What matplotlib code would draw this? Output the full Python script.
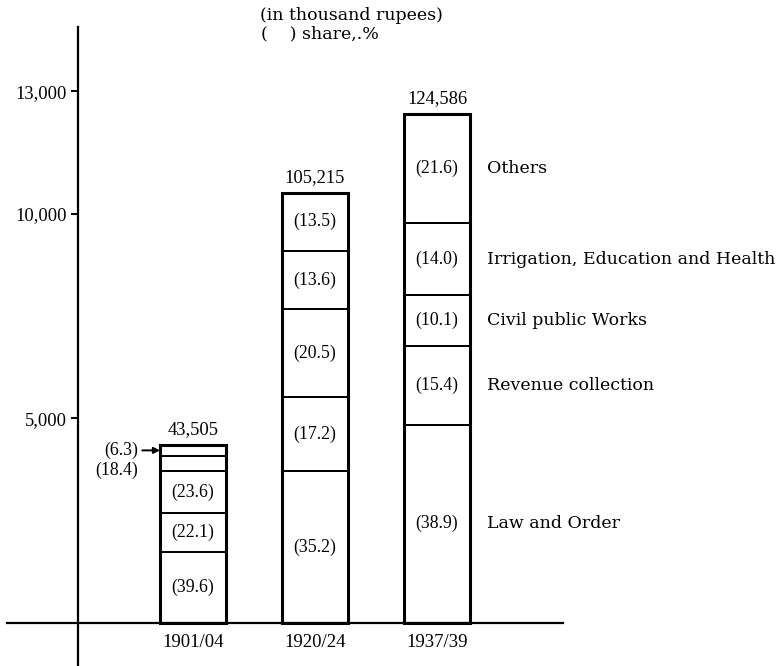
import matplotlib
matplotlib.use("Agg")
import matplotlib.pyplot as plt
import numpy as np

# ---- data ----
periods = ["1901/04", "1920/24", "1937/39"]
totals = [43505, 105215, 124586]            # thousand rupees
categories = ["Law and Order", "Revenue collection", "Civil public Works",
              "Irrigation, Education and Health", "Others"]
shares_1901 = [39.6, 22.1, 23.6, 8.4, 6.3]   # segment sizes as drawn
labels_1901 = ["(39.6)", "(22.1)", "(23.6)", "(18.4)", "(6.3)"]  # as printed
shares_1920 = [35.2, 17.2, 20.5, 13.6, 13.5]
shares_1937 = [38.9, 15.4, 10.1, 14.0, 21.6]
yticks = [5000, 10000, 13000]
ytick_labels = ["5,000", "10,000", "13,000"]

shares = [shares_1901, shares_1920, shares_1937]
labels = [labels_1901,
          [f"({v:.1f})" for v in shares_1920],
          [f"({v:.1f})" for v in shares_1937]]

NUM = "Liberation Serif"
WORD = "DejaVu Serif"

W, H = 778, 666
fig = plt.figure(figsize=(W / 100, H / 100), dpi=100)
ax = fig.add_axes([0, 0, 1, 1])

# scale: axis units = total / 10
px_per_unit = 0.04085
zero_px = 43.5
x0_px, dx_px = 193.0, 122.0
ax.set_ylim(-zero_px / px_per_unit, (H - zero_px) / px_per_unit)
ax.set_xlim(-x0_px / dx_px, (W - x0_px) / dx_px)

width = 66 / dx_px
x = np.arange(len(periods))

for i in range(len(periods)):
    tot = totals[i] / 10.0
    bottom = 0.0
    centers = []
    for s in shares[i]:
        h = tot * s / 100.0
        ax.bar(x[i], h, bottom=bottom, width=width, color="white",
               edgecolor="black", linewidth=1.4, zorder=2)
        centers.append(bottom + h / 2)
        bottom += h
    ax.bar(x[i], tot, width=width, fill=False, edgecolor="black",
           linewidth=2.2, zorder=3)
    ax.annotate(f"{totals[i]:,}", xy=(x[i], tot), xytext=(0, 5),
                textcoords="offset points", ha="center", va="bottom",
                fontsize=13.3, family=NUM)
    for j, lab in enumerate(labels[i]):
        if i == 0 and j == 4:
            ax.annotate(lab, xy=(x[i] - width / 2, centers[j]),
                        xytext=(x[i] - width / 2 - 0.18, centers[j]),
                        ha="right", va="center", fontsize=12.8, family=NUM,
                        arrowprops=dict(arrowstyle="-|>", lw=1.4, color="black",
                                        shrinkA=1, shrinkB=0,
                                        mutation_scale=9))
        elif i == 0 and j == 3:
            ax.annotate(lab, xy=(x[i] - width / 2 - 0.18, centers[j]),
                        xytext=(0, -5), textcoords="offset points",
                        ha="right", va="center", fontsize=12.8, family=NUM)
        else:
            ax.text(x[i], centers[j], lab, ha="center", va="center",
                    fontsize=12.8, family=NUM, zorder=4)
    if i == len(periods) - 1:
        for j, cat in enumerate(categories):
            ax.text(x[i] + width / 2 + 17 / dx_px, centers[j], cat,
                    ha="left", va="center", fontsize=12.5, family=WORD)

# axes styling
for s in ["top", "right"]:
    ax.spines[s].set_visible(False)
ax.spines["left"].set_position(("data", (77.5 - x0_px) / dx_px))
ax.spines["bottom"].set_position(("data", 0))
ax.spines["left"].set_bounds(-1040, 14578)
ax.spines["bottom"].set_bounds((7 - x0_px) / dx_px, (563 - x0_px) / dx_px)
ax.spines["left"].set_linewidth(1.6)
ax.spines["bottom"].set_linewidth(1.6)

ax.set_yticks(yticks)
ax.set_yticklabels(ytick_labels, family=NUM, fontsize=13.3)
ax.tick_params(axis="y", direction="out", length=5, width=1.4, pad=3)
ax.set_xticks(x)
ax.set_xticklabels(periods, family=NUM, fontsize=13.5)
ax.tick_params(axis="x", length=0, pad=8)

fig.text(260 / W, 1 - 15 / H, "(in thousand rupees)", ha="left", va="center",
         fontsize=12.5, family=WORD)
fig.text(261 / W, 1 - 34 / H, "(    ) share,.%", ha="left", va="center",
         fontsize=12.5, family=WORD)

fig.savefig("out.png", dpi=100)
